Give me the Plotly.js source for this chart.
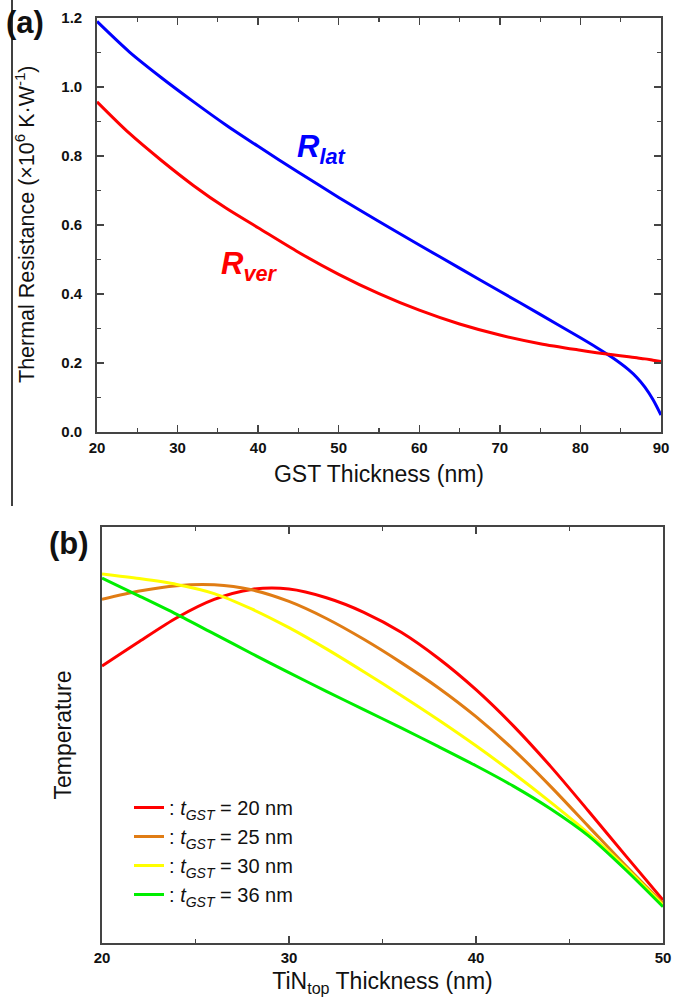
<!DOCTYPE html>
<html>
<head>
<meta charset="utf-8">
<script src="https://cdn.plot.ly/plotly-3.0.1.min.js"></script>
<style>html,body{margin:0;padding:0;background:#fff;}#chart{width:674px;height:1003px;}</style>
</head>
<body>
<div id="chart"></div>
<script>
// Panel (a): thermal resistance vs GST thickness
const gstThickness = [20,24,28,32,36,40,45,50,55,60,65,70,75,80,82,84,86,87,88,89,90];
const rLat = [1.190,1.102,1.027,0.957,0.890,0.828,0.753,0.680,0.610,0.542,0.475,0.408,0.341,0.273,0.245,0.215,0.180,0.158,0.130,0.094,0.049];
const rVer = [0.957,0.866,0.787,0.714,0.649,0.592,0.521,0.457,0.401,0.353,0.313,0.281,0.256,0.237,0.230,0.224,0.218,0.215,0.212,0.208,0.204];

// Panel (b): temperature (arb.) vs TiN_top thickness
const tinThickness = [20,22,24,26,28,30,32,34,36,38,40,42,44,46,48,50];
const tGst20 = [0.666,0.725,0.782,0.826,0.850,0.851,0.830,0.795,0.747,0.684,0.609,0.522,0.424,0.318,0.210,0.103];
const tGst25 = [0.826,0.846,0.859,0.861,0.849,0.821,0.780,0.730,0.674,0.613,0.544,0.465,0.376,0.281,0.186,0.095];
const tGst30 = [0.887,0.876,0.862,0.840,0.803,0.758,0.707,0.652,0.595,0.536,0.474,0.408,0.338,0.264,0.181,0.091];
const tGst36 = [0.877,0.834,0.790,0.743,0.696,0.650,0.605,0.561,0.517,0.472,0.426,0.377,0.322,0.258,0.176,0.087];
const seriesB = [
  {name: ': <i>t</i><sub><i>GST</i></sub> = 20 nm', y: tGst20, color: '#ff0000'},
  {name: ': <i>t</i><sub><i>GST</i></sub> = 25 nm', y: tGst25, color: '#e07c14'},
  {name: ': <i>t</i><sub><i>GST</i></sub> = 30 nm', y: tGst30, color: '#ffff00'},
  {name: ': <i>t</i><sub><i>GST</i></sub> = 36 nm', y: tGst36, color: '#00ee00'}
];

const FONT = 'Arial, "Liberation Sans", sans-serif';
const W = 674, H = 1003;
const px = v => v / W;
const py = v => 1 - v / H;

const traces = [
  {x: gstThickness, y: rLat, mode: 'lines', line: {color: '#0000ff', width: 3, shape: 'spline', smoothing: 0.8}, xaxis: 'x', yaxis: 'y', showlegend: false, name: 'R_lat'},
  {x: gstThickness, y: rVer, mode: 'lines', line: {color: '#ff0000', width: 3, shape: 'spline', smoothing: 0.8}, xaxis: 'x', yaxis: 'y', showlegend: false, name: 'R_ver'}
];
seriesB.forEach(s => traces.push({
  x: tinThickness, y: s.y, mode: 'lines', name: s.name,
  line: {color: s.color, width: 3, shape: 'spline', smoothing: 0.8},
  xaxis: 'x2', yaxis: 'y2'
}));

const TITLE_FONT = {family: FONT, size: 23, color: '#111'};
const axCommon = {
  showline: true, linecolor: '#444', linewidth: 1.8, mirror: 'ticks',
  ticks: 'inside', ticklen: 7, tickwidth: 1.4, tickcolor: '#444',
  showgrid: false, zeroline: false, automargin: false,
  tickfont: {family: FONT, size: 15, weight: 'bold', color: '#111'}
};
const minorX = {dtick: 5, ticklen: 4, tickwidth: 1.2, tickcolor: '#444', ticks: 'inside'};

const layout = {
  width: W, height: H,
  margin: {l: 0, r: 0, t: 0, b: 0},
  paper_bgcolor: '#fff', plot_bgcolor: '#fff',
  font: {family: FONT, color: '#111'},
  xaxis: Object.assign({}, axCommon, {
    domain: [px(97), px(661)], anchor: 'y', range: [20, 90], dtick: 10, tick0: 20,
    minor: minorX, ticklabelstandoff: 1,
    title: {text: 'GST Thickness (nm)', standoff: 11, font: TITLE_FONT}
  }),
  yaxis: Object.assign({}, axCommon, {
    domain: [py(432), py(18)], anchor: 'x', range: [0, 1.2], dtick: 0.2, tick0: 0, tickformat: '.1f',
    minor: {dtick: 0.1, ticklen: 4, tickwidth: 1.2, tickcolor: '#444', ticks: 'inside'},
    ticklabelstandoff: 10
  }),
  xaxis2: Object.assign({}, axCommon, {
    domain: [px(102), px(663)], anchor: 'y2', range: [20, 50], dtick: 10, tick0: 20,
    minor: minorX, ticklabelstandoff: 0,
    title: {text: 'TiN<sub>top</sub> Thickness (nm)', standoff: 8, font: TITLE_FONT}
  }),
  yaxis2: Object.assign({}, axCommon, {
    domain: [py(943), py(527)], anchor: 'x2', range: [0, 1],
    ticks: '', showticklabels: false, mirror: true,
    title: {text: 'Temperature', standoff: 22, font: TITLE_FONT}
  }),
  showlegend: true,
  legend: {
    x: px(129), y: py(788), xanchor: 'left', yanchor: 'top',
    bgcolor: 'rgba(0,0,0,0)', borderwidth: 0,
    font: {family: FONT, size: 20, color: '#111'},
    tracegroupgap: 0, itemwidth: 30
  },
  annotations: [
    {text: 'Thermal Resistance (×10<sup>6</sup> K·W<sup>-1</sup>)', textangle: -90, x: px(25), y: py(224), xref: 'paper', yref: 'paper', xanchor: 'center', yanchor: 'middle', showarrow: false, font: {family: FONT, size: 21.5, color: '#111'}},
    {text: '<b>(a)</b>', x: px(4), y: py(22), xref: 'paper', yref: 'paper', xanchor: 'left', yanchor: 'middle', showarrow: false, font: {family: FONT, size: 31, color: '#111'}},
    {text: '<b>(b)</b>', x: px(47), y: py(543), xref: 'paper', yref: 'paper', xanchor: 'left', yanchor: 'middle', showarrow: false, font: {family: FONT, size: 31, color: '#111'}},
    {text: '<b><i>R</i></b><sub><b><i>lat</i></b></sub>', x: 44.6, y: 0.82, xref: 'x', yref: 'y', xanchor: 'left', yanchor: 'middle', showarrow: false, font: {family: FONT, size: 31, color: '#0000ff'}},
    {text: '<b><i>R</i></b><sub><b><i>ver</i></b></sub>', x: 35.1, y: 0.48, xref: 'x', yref: 'y', xanchor: 'left', yanchor: 'middle', showarrow: false, font: {family: FONT, size: 31, color: '#ff0000'}}
  ],
  shapes: [
    {type: 'line', xref: 'paper', yref: 'paper', x0: px(12), x1: px(12), y0: 1, y1: py(506), line: {color: '#000', width: 1.5}}
  ]
};

Plotly.newPlot('chart', traces, layout, {displayModeBar: false, staticPlot: true});
</script>
</body>
</html>
